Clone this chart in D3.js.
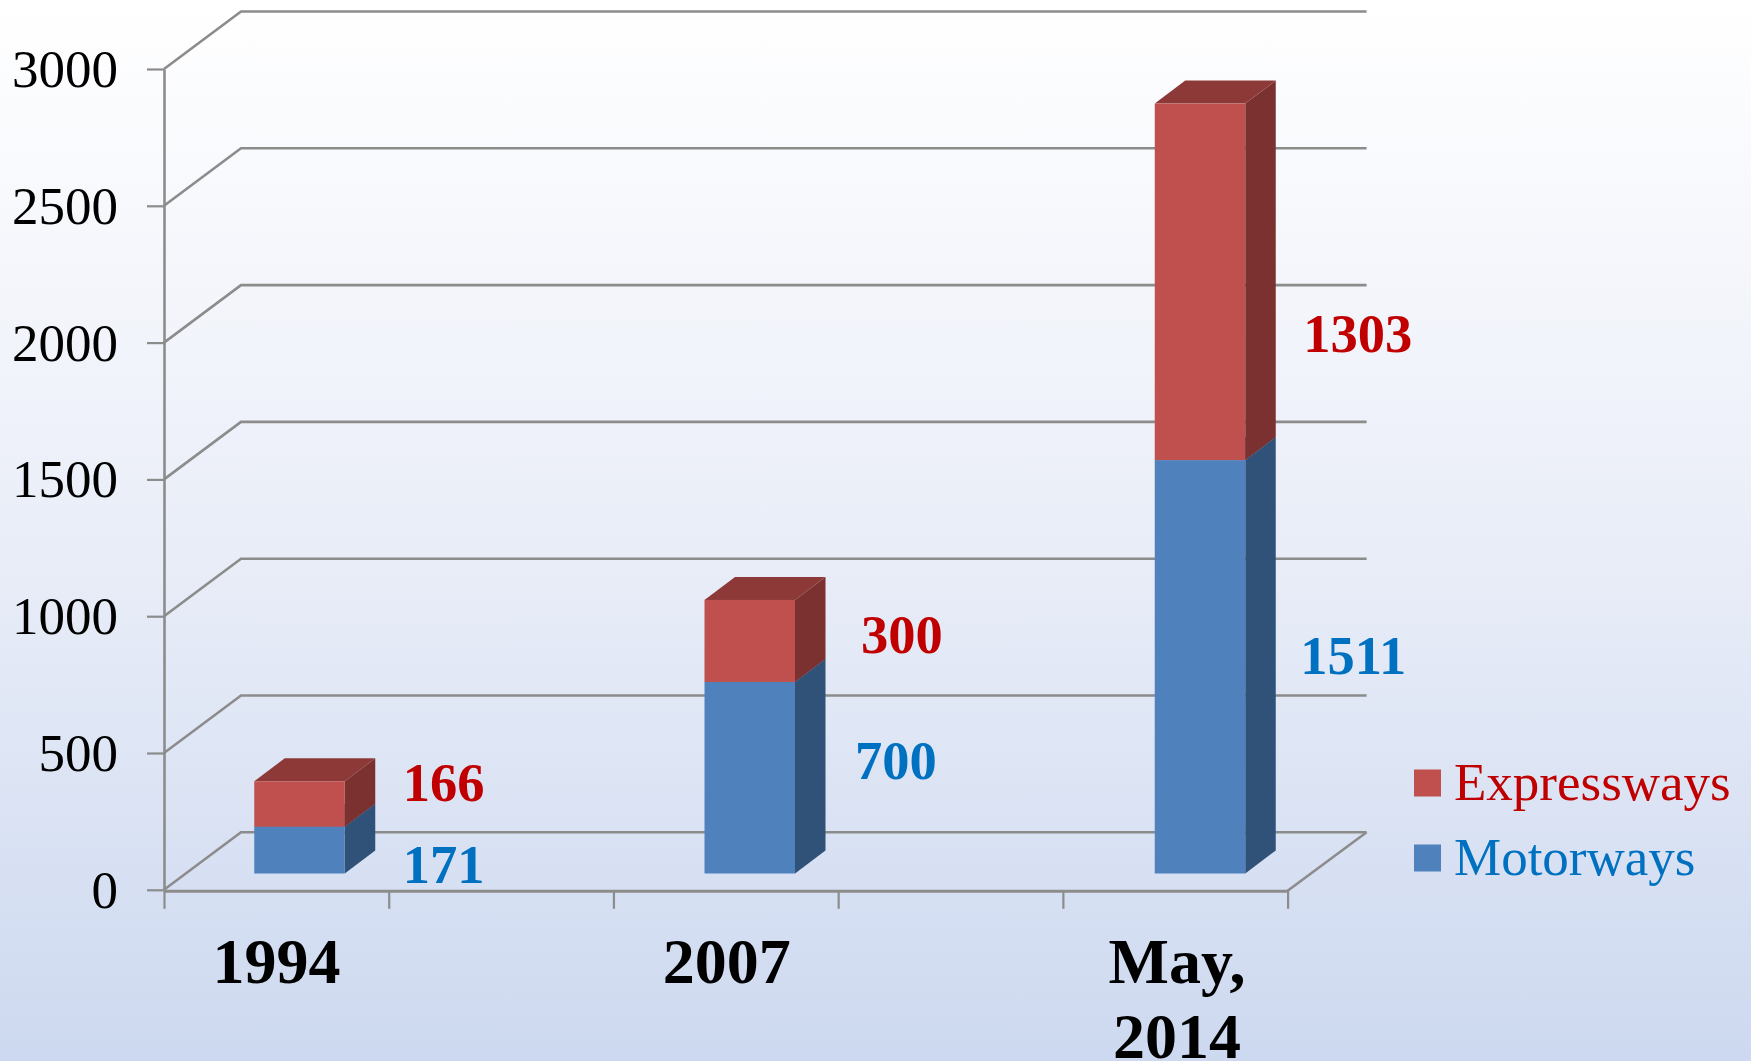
<!DOCTYPE html>
<html>
<head>
<meta charset="utf-8">
<script src="https://cdn.jsdelivr.net/npm/d3@7"></script>
<style>
  html, body { margin: 0; padding: 0; overflow: hidden; }
  svg { display: block; }
  text { font-family: "Liberation Serif", serif; }
</style>
</head>
<body>
<svg></svg>
<script>
const categories = [["1994"], ["2007"], ["May,", "2014"]];
const motorways = [171, 700, 1511];
const expressways = [166, 300, 1303];
const yTicks = [0, 500, 1000, 1500, 2000, 2500, 3000];

const width = 1751;
const height = 1061;

// hand placed labels, offsets from the middle of the segment
const motorwayNudge = [[58, 33], [60, 1], [55, 7]];
const expresswayNudge = [[58, -3], [66, 12], [58, 70]];

const svg = d3.select("svg").attr("width", width).attr("height", height);

const defs = svg.append("defs");
const grad = defs.append("linearGradient")
    .attr("id", "bg")
    .attr("x1", 0).attr("y1", 0).attr("x2", 0).attr("y2", 1);
grad.append("stop").attr("offset", "0%").attr("stop-color", "#ffffff");
grad.append("stop").attr("offset", "50%").attr("stop-color", "#eaeef8");
grad.append("stop").attr("offset", "100%").attr("stop-color", "#cdd9f0");
svg.append("rect").attr("width", width).attr("height", height).attr("fill", "url(#bg)");

const y = d3.scaleLinear().domain([0, 3000]).range([889.8, 69]);
const xLabel = d3.scalePoint().domain(d3.range(categories.length)).range([276.5, 1177]);
const xTick = d3.scaleLinear().domain([0, 5]).range([164, 1287.6]);

// depth of the wall and of the bars
const wallDx = 77, wallDy = 57.5, wallExtra = 2;
const barDx = 30.5, barDy = 23, barW = 90.5, barLift = 16.3, barShift = 23;

const axisColor = "#8c8c8c";

// back wall grid
const grid = svg.append("g")
    .attr("fill", "none")
    .attr("stroke", axisColor)
    .attr("stroke-width", 2.6);
grid.selectAll("path")
    .data(yTicks)
    .join("path")
    .attr("d", d => `M${xTick(0)},${y(d)}L${xTick(0) + wallDx},${y(d) - wallDy}L${xTick(5) + wallDx + wallExtra},${y(d) - wallDy}`);
// floor right edge
grid.append("path")
    .attr("d", `M${xTick(5)},${y(0) + 1}L${xTick(5) + wallDx + wallExtra},${y(0) - wallDy}`);

// y axis
const yAxis = svg.append("g")
    .attr("transform", `translate(${xTick(0)},0)`)
    .call(d3.axisLeft(y).tickValues(yTicks).tickFormat(d3.format("d")).tickSize(17).tickSizeOuter(0));
yAxis.select(".domain").attr("stroke", axisColor).attr("stroke-width", 2.6);
yAxis.selectAll(".tick line").attr("stroke", axisColor).attr("stroke-width", 2.2);
yAxis.selectAll(".tick text")
    .attr("x", -46)
    .attr("dy", 17.5)
    .attr("fill", "#000")
    .attr("font-family", "Liberation Serif")
    .attr("font-size", 53);

// x axis, ticks below the floor
const xAxis = svg.append("g")
    .attr("transform", `translate(0,${y(0) + 1})`)
    .call(d3.axisBottom(xTick).ticks(5).tickSize(18).tickSizeOuter(0).tickFormat(""));
xAxis.select(".domain").attr("stroke", axisColor).attr("stroke-width", 3);
xAxis.selectAll(".tick line").attr("stroke", axisColor).attr("stroke-width", 2.2);

// one stacked segment: side, top, front
function segment(g, i, from, to, front, side, top) {
  const x0 = xLabel(i) + barShift - barW / 2;
  const x1 = x0 + barW;
  const yb = y(from) - barLift;
  const yt = y(to) - barLift;
  g.append("polygon")
      .attr("points", [[x1, yb], [x1 + barDx, yb - barDy], [x1 + barDx, yt - barDy], [x1, yt]].join(" "))
      .attr("fill", side);
  g.append("polygon")
      .attr("points", [[x0, yt], [x0 + barDx, yt - barDy], [x1 + barDx, yt - barDy], [x1, yt]].join(" "))
      .attr("fill", top);
  g.append("rect")
      .attr("x", x0).attr("y", yt)
      .attr("width", barW).attr("height", yb - yt)
      .attr("fill", front);
}

const bars = svg.append("g");
categories.forEach((c, i) => {
  const g = bars.append("g");
  segment(g, i, 0, motorways[i], "#4f81bd", "#305279", "#3f6797");
  segment(g, i, motorways[i], motorways[i] + expressways[i], "#c0504d", "#7a3130", "#8d3938");
});

// data labels
function valueLabels(values, base, nudge, color) {
  svg.append("g").selectAll("text")
      .data(values)
      .join("text")
      .attr("x", (d, i) => xLabel(i) + barShift + barW / 2 + nudge[i][0])
      .attr("y", (d, i) => y(base[i] + d / 2) - barLift + nudge[i][1])
      .attr("fill", color)
      .attr("font-weight", "bold")
      .attr("font-size", 54.5)
      .text(d => d);
}
valueLabels(motorways, motorways.map(() => 0), motorwayNudge, "#0070c0");
valueLabels(expressways, motorways, expresswayNudge, "#c00000");

// category labels
const catLabels = svg.append("g").selectAll("text")
    .data(categories)
    .join("text")
    .attr("text-anchor", "middle")
    .attr("font-weight", "bold")
    .attr("font-size", 64)
    .attr("fill", "#000");
catLabels.selectAll("tspan")
    .data((d, i) => d.map(line => ({ line, i })))
    .join("tspan")
    .attr("x", d => xLabel(d.i))
    .attr("y", (d, j) => 983 + j * 75)
    .text(d => d.line);

// legend
const legendNames = ["Expressways", "Motorways"];
const legendSwatch = ["#c0504d", "#4f81bd"];
const legendText = ["#c00000", "#0070c0"];
const legend = svg.append("g").selectAll("g")
    .data(legendNames)
    .join("g")
    .attr("transform", (d, i) => `translate(1414,${769.5 + i * 75})`);
legend.append("rect")
    .attr("width", 27).attr("height", 27)
    .attr("fill", (d, i) => legendSwatch[i]);
legend.append("text")
    .attr("x", 40).attr("y", 30)
    .attr("font-size", 53)
    .attr("fill", (d, i) => legendText[i])
    .text(d => d);
</script>
</body>
</html>
